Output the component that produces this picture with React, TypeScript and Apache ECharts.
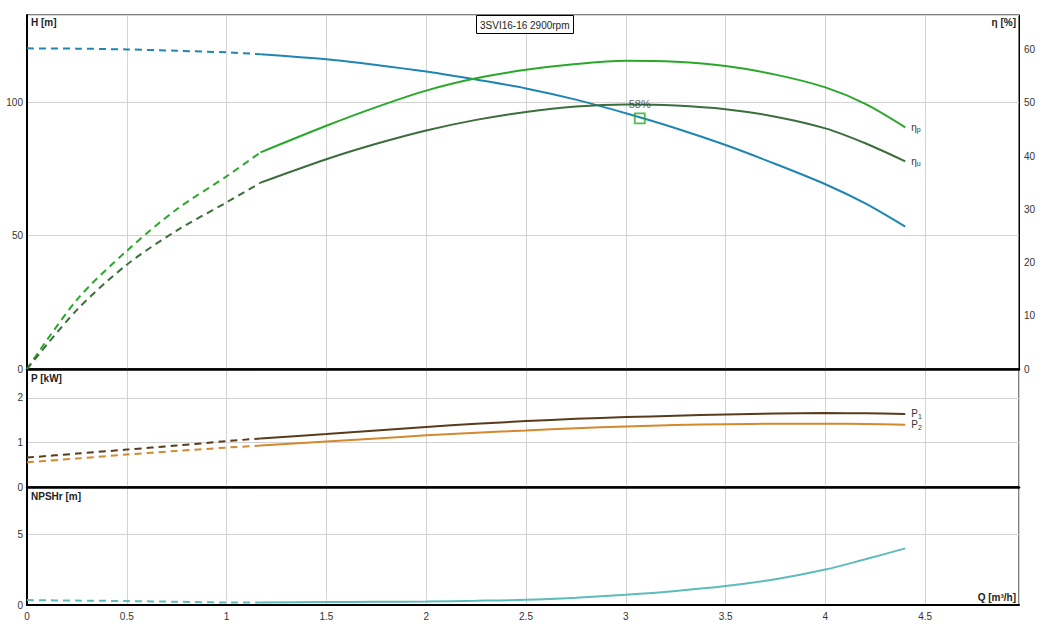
import React, { useEffect, useRef } from "react";
import * as echarts from "echarts";

// ---- data ----
const qDash = [0, 0.25, 0.5, 0.75, 1, 1.17];
const qSolid = [1.17, 1.5, 1.75, 2, 2.25, 2.5, 2.75, 3, 3.25, 3.5, 3.75, 4, 4.2, 4.4];

const hDash = [120.1, 120.0, 119.7, 119.2, 118.6, 117.9];
const hSolid = [117.9, 116.0, 113.9, 111.4, 108.4, 105.1, 100.9, 95.8, 90.2, 83.9, 76.8, 69.2, 62.0, 53.3];

const etaPDash = [0, 13.0, 22.2, 30.0, 36.2, 40.7];
const etaPSolid = [40.7, 45.7, 49.2, 52.3, 54.6, 56.2, 57.3, 57.9, 57.7, 56.9, 55.3, 52.9, 49.8, 45.4];

const etaUDash = [0, 11.1, 19.6, 26.0, 31.3, 35.0];
const etaUSolid = [35.0, 39.4, 42.3, 44.8, 46.8, 48.3, 49.3, 49.7, 49.5, 48.8, 47.4, 45.2, 42.4, 39.0];

const p1Dash = [0.66, 0.75, 0.84, 0.93, 1.03, 1.09];
const p1Solid = [1.09, 1.19, 1.27, 1.35, 1.42, 1.48, 1.53, 1.57, 1.6, 1.63, 1.65, 1.66, 1.655, 1.64];

const p2Dash = [0.555, 0.64, 0.73, 0.81, 0.885, 0.93];
const p2Solid = [0.93, 1.02, 1.09, 1.16, 1.22, 1.27, 1.32, 1.36, 1.39, 1.41, 1.42, 1.42, 1.415, 1.4];

const npshDash = [0.35, 0.31, 0.28, 0.23, 0.18, 0.18];
const npshSolid = [0.18, 0.21, 0.23, 0.25, 0.3, 0.37, 0.52, 0.73, 1.0, 1.35, 1.83, 2.51, 3.24, 4.01];

const dutyPoint = [3.07, 93.9];
const dutyLabel = "58%";
const chartTitle = "3SVI16-16 2900rpm";

const C_H = "#1f86b3";
const C_EP = "#2aa82a";
const C_EU = "#3b6e3b";
const C_P1 = "#5a3c1c";
const C_P2 = "#d4892e";
const C_NP = "#5cbcbc";

const FONT = "Liberation Sans, Arial, sans-serif";

function pairs(xs: number[], ys: number[]) {
  return xs.map((x, i) => [x, ys[i]]);
}

function line(
  name: string,
  xAxisIndex: number,
  yAxisIndex: number,
  xs: number[],
  ys: number[],
  color: string,
  dashed: boolean,
  endLabel?: any
) {
  return {
    name,
    type: "line",
    xAxisIndex,
    yAxisIndex,
    data: pairs(xs, ys),
    smooth: 0.3,
    showSymbol: false,
    symbol: "none",
    silent: true,
    lineStyle: { color, width: 2, type: dashed ? [7, 5] : "solid" },
    endLabel: endLabel ? endLabel : { show: false },
    z: 3,
  };
}

const subLabel = (main: string, sub: string) => ({
  show: true,
  distance: 6,
  color: "#333",
  formatter: `{m|${main}}{s|${sub}}`,
  rich: {
    m: { fontSize: 10, fontFamily: FONT, color: "#333" },
    s: { fontSize: 7, fontFamily: FONT, color: "#333", verticalAlign: "bottom", padding: [5, 0, 0, 0] },
  },
});

export default function App() {
  const ref = useRef<HTMLDivElement>(null);
  useEffect(() => {
    document.body.style.margin = "0";
    const chart = echarts.init(ref.current!, null, { renderer: "svg" });
    const gridLeft = 27;
    const gridWidth = 992;
    const xMax = 4.97;
    const splitStyle = { lineStyle: { color: "#d3d3d3", width: 1 } };
    const axisLabel = { color: "#333", fontSize: 10, fontFamily: FONT, margin: 4, showMaxLabel: false };

    const xAxisBase = (gridIndex: number, showLabels: boolean, lineW: number) => ({
      type: "value",
      gridIndex,
      min: 0,
      max: xMax,
      interval: 0.5,
      axisLine: { show: true, onZero: false, lineStyle: { color: "#000", width: lineW } },
      axisTick: { show: false },
      axisLabel: { ...axisLabel, show: showLabels, margin: 6 },
      splitLine: { show: true, ...splitStyle },
    });

    const option: any = {
      animation: false,
      backgroundColor: "#fff",
      title: {
        text: chartTitle,
        left: 476,
        top: 15,
        padding: [5, 4, 4, 4],
        borderColor: "#000",
        borderWidth: 1,
        backgroundColor: "#fff",
        textStyle: { fontSize: 10, fontWeight: "normal", color: "#222", fontFamily: FONT },
      },
      grid: [
        { left: gridLeft, top: 15, width: gridWidth, height: 354, show: true, borderColor: "#000", borderWidth: 1, containLabel: false },
        { left: gridLeft, top: 369, width: gridWidth, height: 118, show: true, borderColor: "#000", borderWidth: 1, containLabel: false },
        { left: gridLeft, top: 487, width: gridWidth, height: 118, show: true, borderColor: "#000", borderWidth: 1, containLabel: false },
      ],
      xAxis: [xAxisBase(0, false, 2.5), xAxisBase(1, false, 2.5), xAxisBase(2, true, 2)],
      yAxis: [
        {
          type: "value", gridIndex: 0, min: 0, max: 132.6, interval: 50,
          axisLine: { show: true, lineStyle: { color: "#000", width: 2 } },
          axisTick: { show: false }, axisLabel, splitLine: { show: true, ...splitStyle },
        },
        {
          type: "value", gridIndex: 0, position: "right", min: 0, max: 66.5, interval: 10,
          axisLine: { show: true, lineStyle: { color: "#000", width: 1 } },
          axisTick: { show: false }, axisLabel: { ...axisLabel, margin: 5 }, splitLine: { show: false },
        },
        {
          type: "value", gridIndex: 1, min: 0, max: 2.65, interval: 1,
          axisLine: { show: true, lineStyle: { color: "#000", width: 2 } },
          axisTick: { show: false }, axisLabel, splitLine: { show: true, ...splitStyle },
        },
        {
          type: "value", gridIndex: 2, min: 0, max: 8.36, interval: 5,
          axisLine: { show: true, lineStyle: { color: "#000", width: 2 } },
          axisTick: { show: false }, axisLabel, splitLine: { show: true, ...splitStyle },
        },
      ],
      series: [
        line("H dashed", 0, 0, qDash, hDash, C_H, true),
        line("H", 0, 0, qSolid, hSolid, C_H, false),
        line("ηp dashed", 0, 1, qDash, etaPDash, C_EP, true),
        line("ηp", 0, 1, qSolid, etaPSolid, C_EP, false, subLabel("η", "p")),
        line("ηu dashed", 0, 1, qDash, etaUDash, C_EU, true),
        line("ηu", 0, 1, qSolid, etaUSolid, C_EU, false, subLabel("η", "u")),
        line("P1 dashed", 1, 2, qDash, p1Dash, C_P1, true),
        line("P1", 1, 2, qSolid, p1Solid, C_P1, false, subLabel("P", "1")),
        line("P2 dashed", 1, 2, qDash, p2Dash, C_P2, true),
        line("P2", 1, 2, qSolid, p2Solid, C_P2, false, subLabel("P", "2")),
        line("NPSHr dashed", 2, 3, qDash, npshDash, C_NP, true),
        line("NPSHr", 2, 3, qSolid, npshSolid, C_NP, false),
        {
          name: "duty",
          type: "scatter",
          xAxisIndex: 0,
          yAxisIndex: 0,
          data: [dutyPoint],
          symbol: "rect",
          symbolSize: 10,
          silent: true,
          itemStyle: { color: "rgba(0,0,0,0)", borderColor: C_EP, borderWidth: 1.8 },
          label: {
            show: true,
            position: "top",
            distance: 3,
            formatter: dutyLabel,
            fontSize: 11,
            fontFamily: FONT,
            color: "#333",
          },
          z: 5,
        },
      ],
      graphic: [
        { type: "text", left: 31, top: 17, style: { text: "H [m]", font: `bold 10px ${FONT}`, fill: "#222" } },
        { type: "text", right: 23, top: 17, style: { text: "η [%]", font: `bold 10px ${FONT}`, fill: "#222" } },
        { type: "text", left: 31, top: 373, style: { text: "P [kW]", font: `bold 10px ${FONT}`, fill: "#222" } },
        { type: "text", left: 31, top: 491, style: { text: "NPSHr [m]", font: `bold 10px ${FONT}`, fill: "#222" } },
        { type: "text", right: 23, top: 592, style: { text: "Q [m³/h]", font: `bold 10px ${FONT}`, fill: "#222" } },
      ],
    };
    chart.setOption(option);
    return () => chart.dispose();
  }, []);
  return <div ref={ref} style={{ width: 1039, height: 630 }} />;
}
